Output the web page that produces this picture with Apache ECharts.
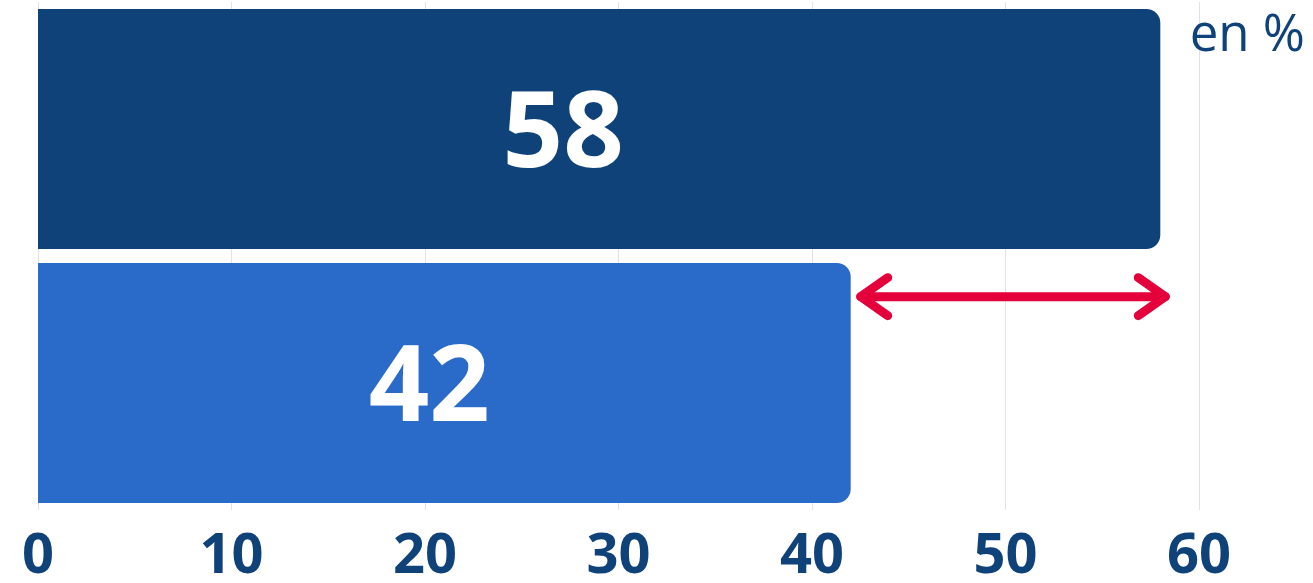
<!DOCTYPE html>
<html>
<head>
<meta charset="utf-8">
<script src="https://cdn.jsdelivr.net/npm/echarts@6/dist/echarts.min.js"></script>
<style>
html, body { margin: 0; padding: 0; background: #fff; }
#chart { width: 1313px; height: 583px; }
</style>
</head>
<body>
<div id="chart"></div>
<script>
// donnees
var categories = ['Groupe A', 'Groupe B'];
var values = [58, 42];
var barColors = ['#10427a', '#2a6bc9'];
var tickMax = 60;
var tickStep = 10;
var gap = [[42, 58, 'Groupe B']]; // fleche entre les deux barres

var labelShift = [-36, -15];

var barData = [];
for (var i = 0; i < values.length; i++) {
	barData.push({
		value: values[i],
		itemStyle: { color: barColors[i] },
		label: { offset: [labelShift[i], 8] }
	});
}

function drawArrow(params, api) {
	var a = api.coord([api.value(0), api.value(2)]);
	var b = api.coord([api.value(1), api.value(2)]);
	var band = api.size([0, 1])[1];
	var y = a[1] - band * 0.34;
	var x1 = a[0] + 10, x2 = b[0] + 5;
	var h = 27, v = 19;
	var st = { stroke: '#e4003a', lineWidth: 9, lineCap: 'round', lineJoin: 'round', fill: null };
	return {
		type: 'group',
		children: [
			{ type: 'line', shape: { x1: x1, y1: y, x2: x2, y2: y }, style: st },
			{ type: 'polyline', shape: { points: [[x1 + h, y - v], [x1, y], [x1 + h, y + v]] }, style: st },
			{ type: 'polyline', shape: { points: [[x2 - h, y - v], [x2, y], [x2 - h, y + v]] }, style: st }
		]
	};
}

var chart = echarts.init(document.getElementById('chart'));
var option = {
	animation: false,
	title: {
		text: 'en %',
		right: 3,
		top: 3,
		textStyle: { fontFamily: 'Open Sans', fontWeight: 'normal', fontSize: 51, color: '#10427a', lineHeight: 56 }
	},
	grid: { left: 38, right: 114, top: 2, bottom: 73, outerBoundsMode: 'none', containLabel: false },
	xAxis: {
		type: 'value',
		min: 0,
		max: tickMax,
		interval: tickStep,
		axisLine: { show: false },
		axisTick: { show: false },
		splitLine: { show: true, lineStyle: { color: '#dde3ea', width: 1 } },
		axisLabel: {
			margin: 19,
			fontFamily: 'Open Sans',
			fontWeight: 'bold',
			fontSize: 56,
			color: '#10427a'
		}
	},
	yAxis: {
		type: 'category',
		data: categories,
		inverse: true,
		axisLine: { show: false },
		axisTick: { show: false },
		axisLabel: { show: false },
		splitLine: { show: false }
	},
	series: [
		{
			type: 'bar',
			data: barData,
			barWidth: 240,
			itemStyle: { borderRadius: [0, 14, 14, 0] },
			label: {
				show: true,
				position: 'inside',
				color: '#ffffff',
				fontFamily: 'Open Sans',
				fontWeight: 'bold',
				fontSize: 106
			},
			z: 2
		},
		{
			type: 'custom',
			data: gap,
			renderItem: drawArrow,
			encode: { x: [0, 1], y: 2 },
			z: 5
		}
	]
};
chart.setOption(option);
</script>
</body>
</html>
